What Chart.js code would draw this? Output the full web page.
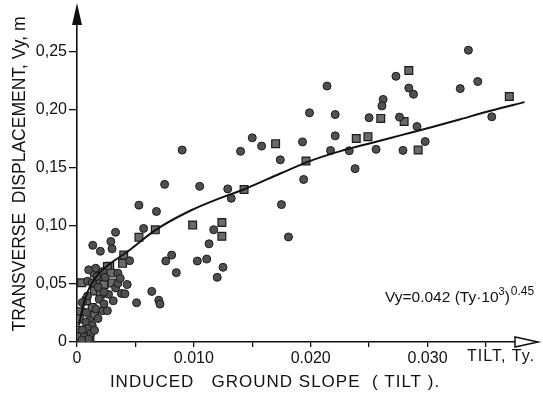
<!DOCTYPE html>
<html>
<head>
<meta charset="utf-8">
<script src="https://cdn.jsdelivr.net/npm/chart.js@4"></script>
<style>
  html, body { margin: 0; padding: 0; background: #fff; }
  #wrap { width: 543px; height: 402px; }
</style>
</head>
<body>
<div id="wrap"><canvas id="myChart" width="543" height="402"></canvas></div>
<script>
// circles (one kind of measurement)
var circleTilt = [0.0335,0.0273,0.0284,0.0288,0.0328,0.0343,0.0262,0.0261,0.0250,0.0276,0.0291,0.0355,
  0.0233,0.0256,0.0279,0.0298,0.0238,0.0214,0.0199,0.0221,0.0221,0.0150,0.0090,0.0140,0.0158,0.0193,
  0.0174,0.0217,0.0075,0.0105,0.0129,0.0132,0.0194,0.0175,0.0181,0.0068,0.0117,0.0053,0.0057,0.0033,
  0.0029,0.00135,0.0020,0.0030,0.0113,0.0045,0.0081,0.0076,0.0103,0.0111,0.0085,0.0125,0.0120,0.0043,
  0.0064,0.0051,0.0070,0.0071,0.0010,0.0016,0.0022,0.0035,0.0009,0.0013,0.0033,0.0027,0.0019,0.0031,
  0.0038,0.0041,0.00045,0.0016,0.0022,0.0026,0.0011,0.00075,0.0013,0.0009,0.00045,0.0012,0.0006,0.0010,
  0.0017,0.0024,0.0018,0.0023,0.0009,0.0023,0.0008,0.0018,0.0015,0.0004,0.0035,0.0037];
var circleDisp = [0.2508,0.2284,0.2183,0.2130,0.2178,0.2239,0.2085,0.2029,0.1928,0.1933,0.1852,0.1936,
  0.1644,0.1656,0.1647,0.1723,0.1490,0.2200,0.1970,0.1955,0.1772,0.1755,0.1650,0.1639,0.1684,0.1720,
  0.1566,0.1646,0.1355,0.1338,0.1316,0.1235,0.1397,0.1181,0.0903,0.1122,0.0965,0.1176,0.0976,0.0943,
  0.0864,0.0831,0.0780,0.0801,0.0844,0.0699,0.0747,0.0697,0.0696,0.0713,0.0596,0.0642,0.0556,0.0494,
  0.0435,0.0337,0.0359,0.0326,0.0620,0.0634,0.0606,0.0592,0.0522,0.0508,0.0465,0.0410,0.0368,0.0354,
  0.0417,0.0415,0.0339,0.0284,0.0269,0.0269,0.0185,0.0171,0.0143,0.0115,0.0101,0.0073,0.0045,0.0025,
  0.0564,0.0556,0.0471,0.0429,0.0396,0.0328,0.0253,0.0202,0.0101,0.0017,0.0505,0.0547];

// squares (other kind of measurement)
var squareTilt = [0.0284,0.0370,0.0260,0.0280,0.0239,0.0249,0.0292,0.0170,0.0196,0.0143,0.0099,0.0124,
  0.0124,0.0067,0.0053,0.0040,0.0039,0.0028,0.0015,0.0026,0.0029,0.0004,0.0020,0.0023,0.0030,0.0015,
  0.0003,0.0013,0.0015,0.0002,0.0002,0.0002,0.0020,0.0008,0.0011];
var squareDisp = [0.2334,0.2110,0.1922,0.1896,0.1749,0.1765,0.1650,0.1705,0.1556,0.1311,0.1006,0.1027,
  0.0909,0.0964,0.0901,0.0747,0.0676,0.0651,0.0592,0.0648,0.0592,0.0509,0.0536,0.0494,0.0508,0.0438,
  0.0261,0.0297,0.0227,0.0199,0.0101,0.0045,0.0412,0.0354,0.0017];

// fitted curve as drawn
var curveTilt = [0.00017,0.00051,0.00094,0.00137,0.00197,0.00283,0.00428,0.00668,0.00968,0.01225,
  0.01431,0.01740,0.01997,0.02254,0.02511,0.02768,0.03025,0.03282,0.03539,0.03830];
var curveDisp = [0.0143,0.0311,0.0438,0.0522,0.0598,0.0673,0.0774,0.0960,0.1128,0.1237,
  0.1313,0.1448,0.1557,0.1641,0.1709,0.1776,0.1843,0.1915,0.1987,0.2062];

var yTicks = [0, 0.05, 0.10, 0.15, 0.20, 0.25];
var yTickLabels = ['0', '0,05', '0,10', '0,15', '0,20', '0,25'];
var xTicks = [0, 0.005, 0.010, 0.015, 0.020, 0.025, 0.030, 0.035];
var xTickLabels = ['0', '', '0.010', '', '0.020', '', '0.030', ''];

function pts(xs, ys){ return xs.map((x, i)=> ({x: x, y: ys[i]})); }

var FONT = "'Liberation Sans', Arial, sans-serif";

var textPlugin = {
  id: 'texts',
  afterDraw(chart){
    var ctx = chart.ctx;
    var a = chart.chartArea;
    ctx.save();
    ctx.fillStyle = '#111';
    ctx.strokeStyle = '#111';
    // y arrow (filled)
    ctx.beginPath();
    ctx.moveTo(a.left, 3);
    ctx.lineTo(a.left - 5, 25);
    ctx.lineTo(a.left + 5, 25);
    ctx.closePath();
    ctx.fill();
    // x arrow (open)
    ctx.lineWidth = 1.5;
    ctx.beginPath();
    ctx.moveTo(a.right + 3, a.bottom);
    ctx.lineTo(a.right - 20, a.bottom - 5);
    ctx.lineTo(a.right - 20, a.bottom + 5);
    ctx.closePath();
    ctx.fillStyle = '#fff';
    ctx.fill();
    ctx.stroke();
    ctx.fillStyle = '#111';

    // axis titles
    ctx.font = '17.5px ' + FONT;
    ctx.textBaseline = 'middle';
    ctx.textAlign = 'center';
    ctx.save();
    ctx.translate(20, 174);
    ctx.rotate(-Math.PI / 2);
    ctx.fillText('TRANSVERSE  DISPLACEMENT, Vy, m', 0, 0);
    ctx.restore();
    ctx.font = '17px ' + FONT;
    ctx.letterSpacing = '1px';
    ctx.fillText('INDUCED   GROUND SLOPE  ( TILT ).', 275, 382);
    ctx.textAlign = 'left';
    ctx.font = '16px ' + FONT;
    ctx.fillText('TILT, Ty.', 467, 357);
    ctx.letterSpacing = '0px';

    // equation
    ctx.textBaseline = 'alphabetic';
    var x = 385, y = 302;
    ctx.font = '15.5px ' + FONT;
    var s1 = 'Vy=0.042 (Ty\u00B710';
    ctx.fillText(s1, x, y); x += ctx.measureText(s1).width;
    ctx.font = '11px ' + FONT;
    ctx.fillText('3', x, y - 7); x += ctx.measureText('3').width;
    ctx.font = '15.5px ' + FONT;
    ctx.fillText(')', x, y); x += ctx.measureText(')').width;
    ctx.font = '12px ' + FONT;
    ctx.fillText('0.45', x + 1, y - 7);
    ctx.restore();
  }
};

var chart = new Chart(document.getElementById('myChart').getContext('2d'), {
  type: 'scatter',
  data: {
    datasets: [
      {
        label: 'curve',
        data: pts(curveTilt, curveDisp),
        showLine: true,
        borderColor: '#111',
        borderWidth: 2,
        pointRadius: 0,
        tension: 0.4,
        cubicInterpolationMode: 'monotone',
        order: 0
      },
      {
        label: 'circles',
        data: pts(circleTilt, circleDisp),
        pointStyle: 'circle',
        pointRadius: 4,
        backgroundColor: '#505050',
        borderColor: '#1a1a1a',
        borderWidth: 1,
        order: 1
      },
      {
        label: 'squares',
        data: pts(squareTilt, squareDisp),
        pointStyle: 'rect',
        pointRadius: 5.5,
        backgroundColor: '#6a6a6a',
        borderColor: '#1a1a1a',
        borderWidth: 1.2,
        order: 2
      }
    ]
  },
  options: {
    responsive: false,
    maintainAspectRatio: false,
    animation: false,
    devicePixelRatio: 1,
    layout: { padding: { top: 5, right: 8, left: 0, bottom: 0 } },
    plugins: { legend: { display: false }, tooltip: { enabled: false } },
    scales: {
      x: {
        type: 'linear',
        min: 0,
        max: 0.0392,
        afterFit: (s)=> { s.height = 60; },
        afterBuildTicks: (s)=> { s.ticks = xTicks.map((v)=> ({value: v})); },
        grid: { drawOnChartArea: false, drawTicks: true, tickLength: 5, color: '#111', lineWidth: 1.3 },
        border: { display: true, color: '#111', width: 1.6 },
        ticks: {
          color: '#111',
          padding: 2,
          maxRotation: 0,
          autoSkip: false,
          font: { family: FONT, size: 16 },
          callback: (v, i)=> xTickLabels[i]
        }
      },
      y: {
        type: 'linear',
        min: 0,
        max: 0.284,
        afterFit: (s)=> { s.width = 77; },
        afterBuildTicks: (s)=> { s.ticks = yTicks.map((v)=> ({value: v})); },
        grid: { drawOnChartArea: false, drawTicks: true, tickLength: 8, color: '#111', lineWidth: 1.3 },
        border: { display: true, color: '#111', width: 1.6 },
        ticks: {
          color: '#111',
          padding: 2,
          autoSkip: false,
          font: { family: FONT, size: 16 },
          callback: (v, i)=> yTickLabels[i]
        }
      }
    }
  },
  plugins: [textPlugin]
});
</script>
</body>
</html>
